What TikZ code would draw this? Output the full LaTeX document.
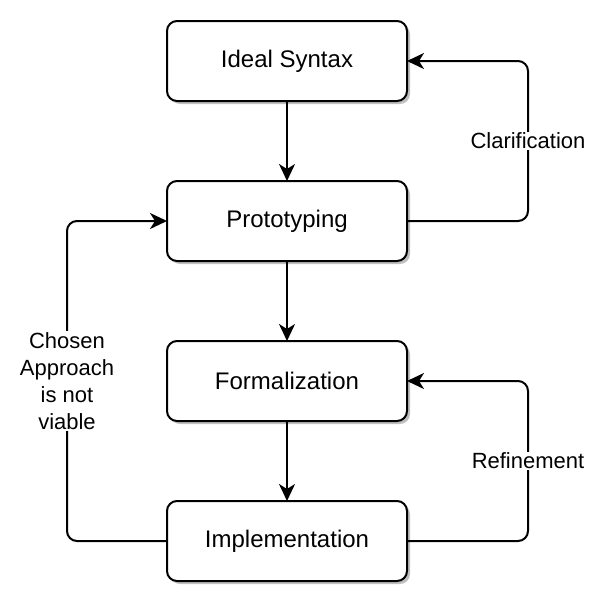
\documentclass[tikz,border=0pt]{standalone}
\usepackage{fontspec}
\setmainfont{Liberation Sans}
\usetikzlibrary{arrows.meta,shadows}
\tikzset{
  stagebox/.style={draw=black, fill=white, line width=2pt, rounded corners=10pt,
    minimum width=240pt, minimum height=80pt, outer sep=0pt,
    font=\fontsize{24}{29}\selectfont,
    drop shadow={shadow xshift=3pt, shadow yshift=-3pt, fill=black!25, opacity=1}},
  flow/.style={line width=2pt, -{Stealth[length=17pt,width=16pt,inset=5pt]}},
  loop/.style={flow, rounded corners=10pt},
  looplabel/.style={fill=white, inner sep=1pt, align=center,
    font=\fontsize{22}{27}\selectfont}
}
\begin{document}
\begin{tikzpicture}[x=1pt,y=-1pt]
\useasboundingbox (0,0) rectangle (604,608);
\node[stagebox] (ideal) at (287,61) {Ideal Syntax};
\node[stagebox] (proto) at (287,221) {Prototyping};
\node[stagebox] (formal) at (287,381) {Formalization};
\node[stagebox] (impl) at (287,541) {Implementation};
\coordinate (r1) at (528,221);
\coordinate (r2) at (528,61);
\coordinate (r3) at (528,541);
\coordinate (r4) at (528,381);
\coordinate (l1) at (67,541);
\coordinate (l2) at (67,221);
\draw[flow] (ideal) -- (proto);
\draw[flow] (proto) -- (formal);
\draw[flow] (formal) -- (impl);
\draw[loop] (proto.east) -- (r1) -- (r2) -- (ideal.east);
\draw[loop] (impl.east) -- (r3) -- (r4) -- (formal.east);
\draw[loop] (impl.west) -- (l1) -- (l2) -- (proto.west);
\node[looplabel] (clar) at (528,141) {Clarification};
\node[looplabel] (refi) at (528,461) {Refinement};
\node[looplabel] (chosen) at (67,381) {Chosen\\Approach\\is not\\viable};
\end{tikzpicture}
\end{document}
